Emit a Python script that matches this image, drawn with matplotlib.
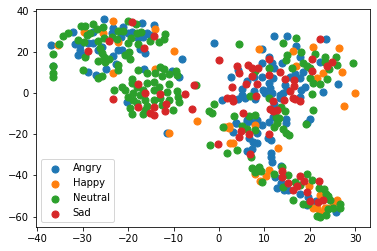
import matplotlib
matplotlib.use("Agg")
import matplotlib.pyplot as plt

labels = ["Angry", "Happy", "Neutral", "Sad"]

angry_x = [-37.0,-36.6,-32.0,-31.7,-30.6,-30.6,-30.9,-29.5,-28.7,-27.6,-25.2,-23.2,-23.6,-21.0,-19.9,-19.2,-21.6,-17.0,-14.4,-15.9,-16.6,-17.7,-26.5,-25.8,-23.2,-22.1,-21.4,-17.4,-16.3,-8.2,-22.6,-24.9,-28.7,-27.1,-16.4,-10.4,-8.7,-20.3,-27.6,-15.2,-11.5,
           12.2,14.9,-1.0,16.9,23.6,9.4,10.9,9.5,11.7,13.8,12.1,17.7,22.2,2.6,4.2,9.5,7.7,11.9,6.1,5.0,5.0,5.7,4.2,0.7,7.9,7.8,9.7,11.2,10.1,11.6,10.9,13.4,13.4,14.5,15.0,16.7,18.5,17.8,18.9,18.0,17.8,15.6,26.2,22.9,12.1,20.1,19.3,14.7,14.7,10.9,3.7,6.1,8.4,9.4,11.9,14.0,
           3.7,6.1,6.8,3.1,8.3,6.7,7.5,8.4,10.8,11.4,6.1,7.3,11.4,11.4,11.6,13.6,12.3,13.6,12.7,14.3,15.2,17.8,19.6,19.3,21.3,25.7,20.7]
angry_y = [23.1,13.2,29.4,23.7,23.3,20.8,18.4,18.4,24.1,24.1,35.7,31.3,28.9,31.8,28.9,29.7,27.0,33.8,33.0,28.9,27.3,26.5,20.8,22.4,17.9,20.8,20.8,21.2,19.2,16.5,14.0,11.4,10.0,8.7,11.6,10.8,7.6,-4.6,29.7,27.9,-19.6,
           27.5,27.5,24.1,22.6,26.0,21.2,17.3,14.4,14.7,14.4,12.3,17.3,15.0,7.6,11.1,7.6,7.9,7.1,5.8,1.7,-1.0,-2.3,-3.0,-3.4,-3.0,1.1,1.4,2.2,0.1,0.1,4.6,-1.0,-2.6,3.8,1.4,9.2,10.0,7.1,3.0,1.4,-1.8,7.9,4.2,0.3,-5.4,-12.7,-14.8,-12.8,-14.4,-14.0,-14.4,-13.2,-13.2,-15.6,-11.5,-0.2,
           -14.8,-14.0,-13.6,-18.8,-19.3,-22.1,-23.7,-24.2,-22.1,-22.9,-28.2,-27.4,-28.9,-31.0,-33.4,-35.3,-41.0,-43.6,-46.3,-47.1,-47.1,-49.1,-50.7,-54.4,-52.5,-57.7,-54.4]

happy_x = [-23.2,-35.3,-29.6,-25.4,-22.3,-14.1,-9.8,-23.4,-14.1,-4.8,-10.9,
           8.9,16.3,20.7,26.4,16.9,27.1,22.9,21.5,30.0,27.5,7.9,2.1,
           1.3,2.4,3.0,2.1,13.0,7.9,9.0,10.3,11.1,19.8,22.2,21.5,20.7,23.3,26.0,25.1,22.3,23.7]
happy_y = [34.7,23.3,29.4,28.9,24.5,30.9,20.2,9.5,11.6,-13.8,-19.5,
           21.3,20.2,22.1,21.6,12.9,10.0,9.5,7.1,-0.2,-6.5,-15.6,-16.1,
           -16.4,-24.5,-24.5,-17.2,-26.9,-39.4,-42.8,-40.3,-37.4,-45.0,-49.6,-56.0,-55.6,-56.0,-52.0,-53.6,-57.7,-55.6]

neutral_x = [-36.6,-36.6,-36.6,-36.6,-35.2,-34.2,-33.1,-30.4,-29.5,-27.8,-25.6,-26.9,-28.4,-29.1,-31.1,-29.6,-26.7,-25.3,-23.6,-22.3,-21.2,-22.5,-19.4,-19.9,-17.7,-18.1,-17.2,-18.2,-20.1,-11.9,-12.0,-13.3,-15.2,-26.2,-25.8,-25.3,-26.5,-25.1,-24.2,-29.5,-19.7,-20.7,-19.6,-22.1,-22.3,-29.8,-26.5,-25.8,-17.9,-15.9,-14.1,-13.0,-12.0,-11.1,-12.6,-9.5,-9.3,-19.2,-19.2,-23.0,-21.4,-20.7,-18.1,-15.9,-14.4,-11.1,-19.9,-18.8,-17.4,-16.6,-14.4,-13.3,-11.5,-9.3,-9.1,-8.7,-18.8,-18.1,-19.6,-19.2,-16.3,-15.9,-16.3,-16.8,-14.4,-13.0,-11.1,-10.2,-5.1,-12.6,
             4.5,16.9,14.1,18.1,15.0,14.7,21.0,23.3,25.7,26.0,29.5,18.4,19.4,20.0,16.1,10.9,7.9,23.3,24.2,23.7,22.1,20.0,20.7,20.5,20.7,6.8,10.9,13.6,14.5,-1.2,-2.1,-1.6,3.4,6.7,7.9,12.5,13.2,
             0.9,5.0,6.1,7.9,12.7,12.1,14.0,14.7,15.5,19.1,-2.0,1.7,4.0,7.0,7.2,8.3,8.8,9.2,7.9,9.5,12.1,13.9,15.2,19.3,20.4,14.1,16.7,16.3,18.5,19.6,22.0,23.1,23.5,24.0,24.5,26.6,26.7,25.1,24.0,21.5,22.3,23.5,17.8]
neutral_y = [18.7,13.2,9.8,7.6,23.6,27.5,28.9,32.3,32.3,33.5,31.8,30.9,28.9,28.1,25.8,24.9,25.0,26.5,27.0,30.1,30.2,26.0,26.5,24.1,23.6,28.9,29.7,33.5,35.1,28.4,26.2,24.5,25.0,22.0,19.2,17.3,15.3,15.2,16.5,17.3,20.0,18.4,16.3,13.5,11.1,11.0,7.1,8.2,11.0,9.5,9.5,12.7,11.4,9.2,8.4,10.6,8.7,6.9,4.6,1.2,2.7,1.4,2.7,4.6,5.1,4.2,-1.8,-0.2,-1.0,1.4,1.4,3.0,0.6,1.1,-2.2,-4.6,-3.4,-5.1,-7.5,-10.4,-3.4,-6.4,-8.3,-10.4,-3.4,-2.6,-3.4,-8.5,3.7,-5.9,
             23.6,26.5,24.1,19.7,18.4,16.0,18.7,17.6,17.3,13.7,14.4,14.4,13.2,11.9,12.3,11.9,10.6,15.2,11.4,6.6,4.2,7.4,4.6,-0.7,-8.5,-1.3,-2.6,-6.7,-8.6,-5.2,-8.8,-9.9,-11.0,-11.4,-10.7,-11.5,-12.3,
             -16.4,-16.1,-17.7,-18.0,-14.8,-16.7,-17.7,-19.3,-20.6,-15.3,-25.5,-29.2,-27.9,-31.0,-36.3,-37.1,-35.8,-37.9,-38.2,-43.1,-39.5,-35.8,-40.0,-39.5,-42.3,-45.5,-43.1,-52.0,-54.1,-54.1,-46.0,-46.7,-48.8,-50.1,-52.0,-53.9,-56.0,-55.6,-56.5,-59.8,-60.4,-59.3,-44.7]

sad_x = [-19.2,-14.2,-24.1,-16.4,-28.7,-17.9,-16.2,-12.9,-5.6,-7.4,-23.2,-17.7,-14.3,-11.6,-11.8,-15.1,-14.2,-5.9,
         22.3,0.1,4.0,4.5,6.4,7.2,8.6,10.9,13.5,7.3,11.1,14.6,16.6,8.4,16.6,2.9,5.9,1.8,2.9,3.1,15.6,8.1,11.9,14.4,16.3,17.7,16.7,11.2,12.7,11.8,5.3,20.5,24.8,23.8,20.5,
         4.8,4.5,6.7,11.1,-0.2,6.8,13.9,13.8,17.7,18.7,22.0,15.2,17.1,16.3,19.3,19.9,21.8,22.9]
sad_y = [34.3,27.5,25.0,21.6,20.3,4.2,-0.2,-0.7,3.7,-0.7,-3.1,-7.0,-6.7,-5.5,-8.9,-9.9,-10.9,-8.0,
         26.0,15.8,12.9,9.8,13.5,11.9,11.9,16.3,10.0,8.0,8.5,6.6,6.3,4.3,3.4,2.9,4.2,-2.6,-2.3,-3.9,1.1,-1.3,-3.8,-3.4,-2.3,-3.9,-3.1,-8.0,-8.3,-8.6,-9.9,16.3,15.0,12.9,10.6,
         -18.5,-21.6,-20.0,-20.0,-25.0,-29.7,-37.9,-40.7,-40.2,-42.8,-42.9,-43.9,-45.2,-47.1,-48.3,-52.5,-53.1,-52.0]

series_x = [angry_x, happy_x, neutral_x, sad_x]
series_y = [angry_y, happy_y, neutral_y, sad_y]

W, H = 377, 251
fig = plt.figure(figsize=(W / 72, H / 72), dpi=72)
ax = fig.add_axes([35.7 / W, (H - 227.3) / H, 334.3 / W, 218 / H])
for xs, ys, name in zip(series_x, series_y, labels):
    ax.scatter(xs, ys, label=name, s=50)
ax.set_xlim(-40.3, 33.2)
ax.set_ylim(-65.2, 40.6)
ax.set_xticks(range(-40, 31, 10))
ax.set_yticks(range(-60, 41, 20))
ax.legend(loc="lower left")
fig.savefig("out.png", dpi=72)
